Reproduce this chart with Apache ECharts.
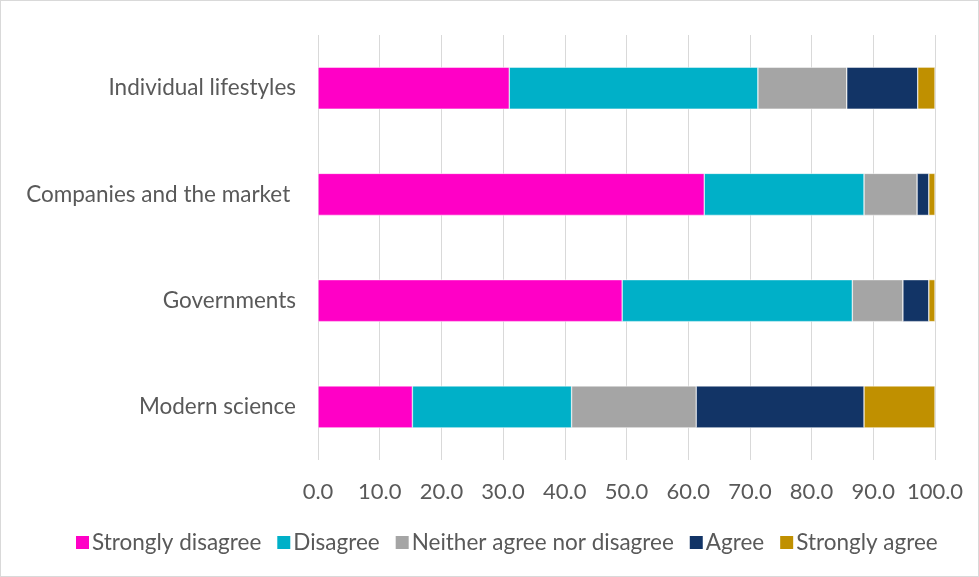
<!DOCTYPE html>
<html><head><meta charset="utf-8">
<script src="https://cdn.jsdelivr.net/npm/echarts@6/dist/echarts.min.js"></script>
<style>html,body{margin:0;padding:0;background:#fff}#c{width:979px;height:577px;box-sizing:border-box;border:1px solid #d9d9d9}</style>
</head><body><div id="c"></div>
<script>
const categories = ["Modern science", "Governments", "Companies and the market ", "Individual lifestyles"];
const seriesNames = ["Strongly disagree", "Disagree", "Neither agree nor disagree", "Agree", "Strongly agree"];
const stronglyDisagree = [15.3, 49.3, 62.6, 31.0];
const disagree = [25.8, 37.3, 25.9, 40.3];
const neither = [20.2, 8.2, 8.6, 14.4];
const agree = [27.2, 4.2, 1.9, 11.5];
const stronglyAgree = [11.5, 1.0, 1.0, 2.8];
const colors = ["#FF00C6", "#00B0C8", "#A5A5A5", "#123466", "#C09000"];
const values = [stronglyDisagree, disagree, neither, agree, stronglyAgree];
const font = "Lato, 'Open Sans', sans-serif";
const chart = echarts.init(document.getElementById('c'));
chart.setOption({
  animation: false,
  color: colors,
  grid: {left: 317, right: 43, top: 34, bottom: 116, containLabel: false},
  legend: {
    bottom: 17, left: 68, itemWidth: 15, itemHeight: 15, itemGap: 14,
    icon: 'rect',
    textStyle: {fontFamily: font, fontSize: 22.5, color: '#595959', padding: [0,0,0,-3]},
    data: seriesNames
  },
  xAxis: {
    type: 'value', min: 0, max: 100, interval: 10,
    axisLine: {show: false}, axisTick: {show: false},
    splitLine: {lineStyle: {color: '#D9D9D9', width: 1}},
    axisLabel: {formatter: v => v.toFixed(1), fontFamily: font, fontSize: 22, color: '#595959', margin: 21}
  },
  yAxis: {
    type: 'category', data: categories,
    axisLine: {show: false}, axisTick: {show: false},
    axisLabel: {fontFamily: font, fontSize: 22.5, color: '#595959', margin: 22}
  },
  series: seriesNames.map((n, i) => ({
    name: n, type: 'bar', stack: 'total', data: values[i], barWidth: 42,
    itemStyle: {borderColor: '#ffffff', borderWidth: 0.5}
  }))
});
</script></body></html>
